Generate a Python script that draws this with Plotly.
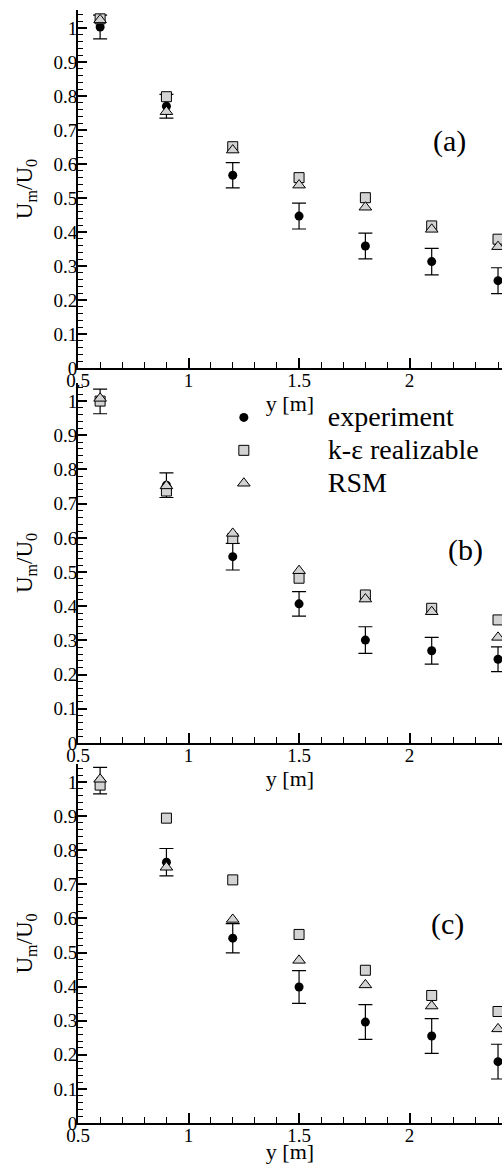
import plotly.graph_objects as go

# ---- data ----
x_pos = [0.6, 0.9, 1.2, 1.5, 1.8, 2.1, 2.4]

exp_a = [1.003, 0.770, 0.567, 0.447, 0.359, 0.313, 0.257]
err_a = [0.035, 0.035, 0.037, 0.038, 0.038, 0.039, 0.038]
ke_a = [1.027, 0.798, 0.651, 0.560, 0.501, 0.418, 0.379]
rsm_a = [1.024, 0.754, 0.641, 0.538, 0.473, 0.408, 0.357]

exp_b = [0.999, 0.754, 0.545, 0.407, 0.301, 0.270, 0.245]
err_b = [0.036, 0.036, 0.039, 0.036, 0.039, 0.039, 0.036]
ke_b = [1.000, 0.737, 0.598, 0.482, 0.433, 0.394, 0.360]
rsm_b = [1.008, 0.752, 0.613, 0.504, 0.421, 0.384, 0.309]

exp_c = [1.004, 0.765, 0.542, 0.399, 0.296, 0.255, 0.180]
err_c = [0.039, 0.040, 0.043, 0.048, 0.051, 0.051, 0.051]
ke_c = [0.991, 0.894, 0.713, 0.553, 0.448, 0.374, 0.327]
rsm_c = [1.008, 0.750, 0.597, 0.477, 0.405, 0.343, 0.276]

series_names = ["experiment", "k-\u03b5 realizable", "RSM"]
panel_labels = ["(a)", "(b)", "(c)"]
x_title = "y [m]"
y_title = "U<sub>m</sub>/U<sub>0</sub>"

panels = [
    (exp_a, err_a, ke_a, rsm_a),
    (exp_b, err_b, ke_b, rsm_b),
    (exp_c, err_c, ke_c, rsm_c),
]

FONT = "Liberation Serif"
GRAY = "#d3d3d3"


def legend_name(s):
    return "<span style='font-size:28px'>" + s + "</span>"


fig = go.Figure()
axis_suffix = ["", "2", "3"]
for i, (ex, er, ke, rs) in enumerate(panels):
    xa = "x" + axis_suffix[i]
    ya = "y" + axis_suffix[i]
    show = (i == 1)
    fig.add_trace(go.Scatter(
        x=x_pos, y=ex, mode="markers", name=legend_name(series_names[0]),
        xaxis=xa, yaxis=ya, showlegend=show,
        marker=dict(symbol="circle", size=9, color="black"),
        error_y=dict(type="data", array=er, visible=True, color="black",
                     thickness=1.2, width=7),
    ))
    fig.add_trace(go.Scatter(
        x=x_pos, y=ke, mode="markers", name=legend_name(series_names[1]),
        xaxis=xa, yaxis=ya, showlegend=show,
        marker=dict(symbol="square", size=10, color=GRAY,
                    line=dict(color="black", width=1)),
    ))
    fig.add_trace(go.Scatter(
        x=x_pos, y=rs, mode="markers", name=legend_name(series_names[2]),
        xaxis=xa, yaxis=ya, showlegend=show,
        marker=dict(symbol="triangle-up", size=11, color=GRAY,
                    line=dict(color="black", width=1)),
    ))

domains = [[0.6783, 1.0], [0.3414, 0.6649], [0.0, 0.3226]]
label_pos = [(2.179, 0.668), (2.251, 0.564), (2.17, 0.584)]

layout = dict(
    width=502, height=1164,
    margin=dict(l=78, r=0, t=10, b=41, pad=0),
    paper_bgcolor="white", plot_bgcolor="white",
    font=dict(family=FONT, color="black", size=19),
    showlegend=True,
    legend=dict(
        x=0.193, y=0.6532, xanchor="left", yanchor="top",
        bgcolor="rgba(0,0,0,0)", borderwidth=0,
        font=dict(family=FONT, size=23, color="black"),
        itemwidth=158, itemsizing="trace",
    ),
)

annotations = []
for i in range(3):
    xa = "xaxis" + axis_suffix[i]
    ya = "yaxis" + axis_suffix[i]
    layout[xa] = dict(
        domain=[0, 1], range=[0.5, 2.418], anchor="y" + axis_suffix[i],
        showline=True, linecolor="black", linewidth=2,
        showgrid=False, zeroline=False,
        ticks="inside", ticklen=10, tickwidth=1.5, tickcolor="black",
        tick0=0.5, dtick=0.5,
        minor=dict(ticks="inside", ticklen=6, tickwidth=1.2, tickcolor="black",
                   dtick=0.1, tick0=0.5, showgrid=False),
        tickfont=dict(family=FONT, size=19, color="black"),
        ticklabelstandoff=-6,
        title=dict(text=x_title, font=dict(family=FONT, size=22, color="black"),
                   standoff=6),
        automargin=False,
    )
    layout[ya] = dict(
        domain=domains[i], range=[0, 1.053], anchor="x" + axis_suffix[i],
        showline=True, linecolor="black", linewidth=2,
        showgrid=False, zeroline=False,
        ticks="inside", ticklen=9, tickwidth=1.5, tickcolor="black",
        tick0=0, dtick=0.1,
        minor=dict(ticks="inside", ticklen=5, tickwidth=1.2, tickcolor="black",
                   dtick=0.02, tick0=0, showgrid=False),
        tickfont=dict(family=FONT, size=19, color="black"),
        ticklabelstandoff=-5,
        title=dict(text=y_title, font=dict(family=FONT, size=23, color="black"),
                   standoff=14),
        automargin=False,
    )
    lx, ly = label_pos[i]
    annotations.append(dict(
        x=lx, y=ly, xref="x" + axis_suffix[i], yref="y" + axis_suffix[i],
        text=panel_labels[i], showarrow=False,
        font=dict(family=FONT, size=30, color="black"),
        xanchor="center", yanchor="middle",
    ))
layout["annotations"] = annotations

fig.update_layout(**layout)
fig.write_html(
    "out.html",
    config={"displayModeBar": False},
    post_script="document.body.style.margin='0';"
                "document.body.style.overflow='hidden';",
)
